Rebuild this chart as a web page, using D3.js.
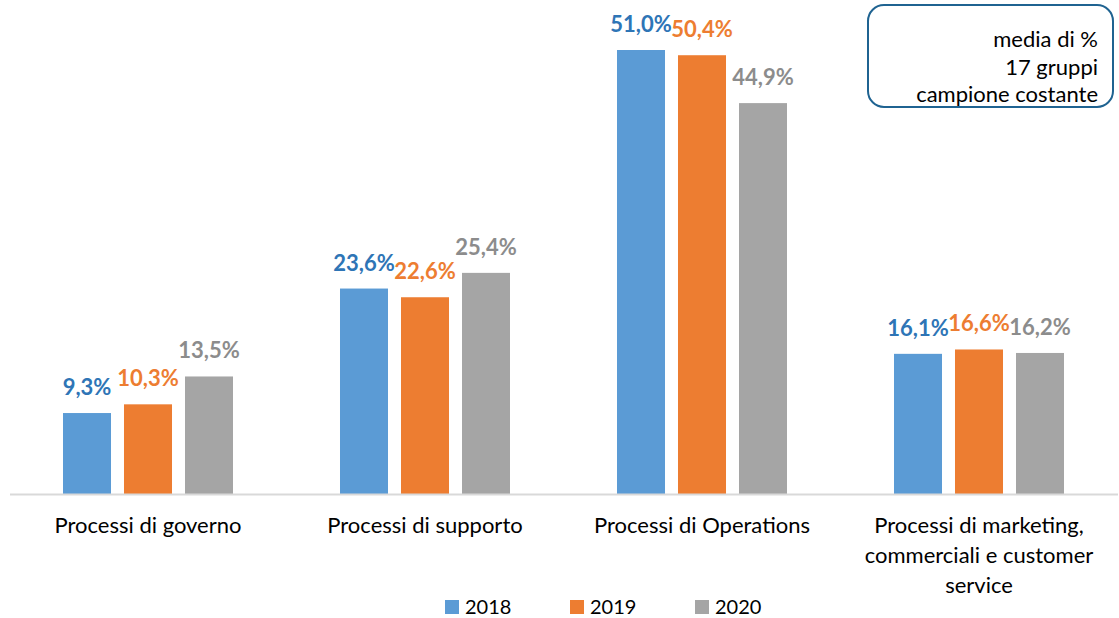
<!DOCTYPE html>
<html>
<head>
<meta charset="utf-8">
<script src="https://cdn.jsdelivr.net/npm/d3@7"></script>
<style>
  html, body { margin: 0; padding: 0; background: #fff; }
  svg { display: block; font-family: Lato, "Open Sans", sans-serif; }
</style>
</head>
<body>
<svg id="chart" width="1119" height="618"></svg>
<script>
// Process categories (x axis)
const categories = [
  "Processi di governo",
  "Processi di supporto",
  "Processi di Operations",
  "Processi di marketing, commerciali e customer service"
];
// Share (%) per year
const years = ["2018", "2019", "2020"];
const values2018 = [9.3, 23.6, 51.0, 16.1];
const values2019 = [10.3, 22.6, 50.4, 16.6];
const values2020 = [13.5, 25.4, 44.9, 16.2];
const noteLines = ["media di %", "17 gruppi", "campione costante"];

const series = [values2018, values2019, values2020];
const barColors = ["#5b9bd5", "#ed7d31", "#a5a5a5"];
const labelColors = ["#2e75b6", "#ed7d31", "#8c8c8c"];

const svg = d3.select("#chart");
const baseY = 494;

const x0 = d3.scaleBand().domain(categories).range([9.5, 1117.5]).paddingInner(0).paddingOuter(0);
const x1 = d3.scaleBand().domain(years).range([0, x0.bandwidth()]).paddingInner(0.213).paddingOuter(0.877);
const y = d3.scaleLinear().domain([0, 51]).range([baseY, 50]);

// Bars
const groups = svg.append("g").selectAll("g")
  .data(categories)
  .join("g")
  .attr("transform", d => `translate(${x0(d)},0)`);

groups.selectAll("rect")
  .data((c, i) => years.map((yr, s) => ({ yr, s, v: series[s][i] })))
  .join("rect")
  .attr("x", d => x1(d.yr))
  .attr("width", x1.bandwidth())
  .attr("y", d => y(d.v))
  .attr("height", d => baseY - y(d.v))
  .attr("fill", d => barColors[d.s]);

// Value labels
const fmt = v => v.toFixed(1).replace(".", ",") + "%";
groups.selectAll("text.val")
  .data((c, i) => years.map((yr, s) => ({ yr, s, v: series[s][i] })))
  .join("text")
  .attr("class", "val")
  .attr("x", d => x1(d.yr) + x1.bandwidth() / 2)
  .attr("y", d => y(d.v) - 18)
  .attr("text-anchor", "middle")
  .attr("font-size", 22)
  .attr("font-weight", 700)
  .attr("fill", d => labelColors[d.s])
  .text(d => fmt(d.v));

// Category axis
const xAxis = svg.append("g")
  .attr("transform", `translate(0,${baseY})`)
  .call(d3.axisBottom(x0).tickSize(0).tickFormat(""));
xAxis.select(".domain").attr("stroke", "#d9d9d9").attr("stroke-width", 2);

// Category labels, wrapped onto lines
const wrapped = {
  "Processi di marketing, commerciali e customer service":
    ["Processi di marketing,", "commerciali e customer", "service"]
};
categories.forEach(c => {
  const lines = wrapped[c] || [c];
  const t = svg.append("text")
    .attr("text-anchor", "middle")
    .attr("font-size", 22)
    .attr("fill", "#000");
  lines.forEach((ln, k) => {
    t.append("tspan")
      .attr("x", x0(c) + x0.bandwidth() / 2)
      .attr("y", 533 + k * 30)
      .text(ln);
  });
});

// Legend
const legendX = [445, 570, 695];
const legend = svg.append("g");
years.forEach((yr, s) => {
  legend.append("rect")
    .attr("x", legendX[s]).attr("y", 600)
    .attr("width", 14).attr("height", 14)
    .attr("fill", barColors[s]);
  legend.append("text")
    .attr("x", legendX[s] + 20).attr("y", 614)
    .attr("font-size", 20)
    .attr("fill", "#000")
    .text(yr);
});

// Note box
svg.append("rect")
  .attr("x", 868).attr("y", 5)
  .attr("width", 245).attr("height", 102)
  .attr("rx", 16).attr("ry", 16)
  .attr("fill", "#fff")
  .attr("stroke", "#1f6391")
  .attr("stroke-width", 2);
const note = svg.append("text")
  .attr("text-anchor", "end")
  .attr("font-size", 22)
  .attr("fill", "#000");
noteLines.forEach((ln, k) => {
  note.append("tspan").attr("x", 1098).attr("y", 47 + k * 27.5).text(ln);
});
</script>
</body>
</html>
